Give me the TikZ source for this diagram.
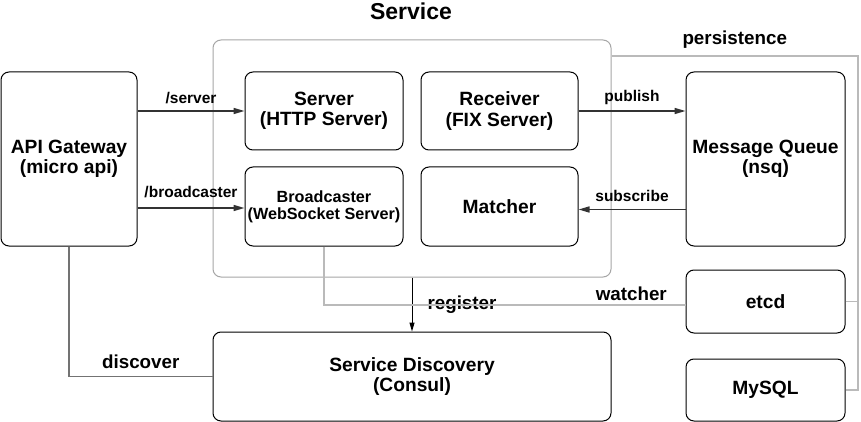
\documentclass[tikz,border=0pt]{standalone}
\usepackage{fontspec}
\setmainfont{Liberation Sans}
\usetikzlibrary{arrows.meta,calc}
\begin{document}
\begin{tikzpicture}[x=1pt,y=-1pt,
  box/.style={draw=black, line width=1pt, fill=white, rounded corners=8pt, align=center, inner sep=0pt,
    font=\bfseries\fontsize{19.2}{20.5}\selectfont},
  smallbox/.style={box, font=\bfseries\fontsize{16.2}{17}\selectfont},
  container/.style={draw=black!35, line width=1pt, rounded corners=8pt, inner sep=0pt},
  arr/.style={draw=black!80, line width=1.6pt, -{Triangle[length=11pt,width=6pt]}},
  thinarr/.style={draw=black, line width=1pt, -{Triangle[length=9pt,width=5pt]}},
  light/.style={draw=black!27, line width=1.3pt},
  mid/.style={draw=black!55, line width=1.5pt},
  lbl/.style={font=\bfseries\fontsize{15.5}{17}\selectfont, inner sep=1pt},
  biglbl/.style={font=\bfseries\fontsize{18.8}{20}\selectfont, inner sep=1pt}
]
\useasboundingbox (0,0) rectangle (861,422);
\fill[white] (0,0) rectangle (861,422);

% container
\node[container, minimum width=398, minimum height=237] (svc) at (412,158.5) {};
\node[font=\bfseries\fontsize{23}{25}\selectfont, inner sep=0pt] (svctitle) at (411,11) {Service};

% boxes
\node[box, minimum width=136, minimum height=174] (api) at (69,159) {API Gateway\\(micro api)};
\node[box, minimum width=158, minimum height=78] (srv) at (324,111) {Server\\(HTTP Server)};
\node[box, minimum width=157, minimum height=78] (rcv) at (499.5,111) {Receiver\\(FIX Server)};
\node[smallbox, minimum width=158, minimum height=79] (bc) at (324,206.5) {Broadcaster\\(WebSocket Server)};
\node[box, minimum width=157, minimum height=79] (mat) at (499.5,206.5) {Matcher};
\node[box, minimum width=159, minimum height=174] (mq) at (765.5,159) {Message Queue\\(nsq)};
\node[box, minimum width=159, minimum height=63] (etcd) at (765.5,301.5) {etcd};
\node[box, minimum width=159, minimum height=62] (mysql) at (765.5,390) {MySQL};
\node[box, minimum width=398, minimum height=89] (sd) at (412,376.5) {Service Discovery\\(Consul)};

% connectors
\draw[arr] (srv.west -| api.east) -- (srv.west) node[lbl, midway, above=5pt] (lserver) {/server};
\draw[arr] ($(bc.west -| api.east)+(0,1.5)$) -- ($(bc.west)+(0,1.5)$) node[lbl, midway, above=8pt] (lbc) {/broadcaster};
\draw[arr] (rcv.east) -- (rcv.east -| mq.west) node[lbl, midway, above=4pt] (lpub) {publish};
\draw[arr] ($(mat.east -| mq.west)+(0,3)$) -- ($(mat.east)+(0,3)$) node[lbl, midway, above=6pt] (lsub) {subscribe};
\draw[thinarr] (svc.south) -- (sd.north) node[biglbl, midway, right=14pt] (lreg) {register};

\draw[light] (bc.south) |- ($(etcd.west)+(0,3.5)$) node[biglbl, pos=0.925, above=3pt] (lwatch) {watcher};

\coordinate (pr) at (858,56);
\draw[light] (svc.east |- pr) -- (pr) node[biglbl, midway, above=6pt] (lpers) {persistence}
  -- (pr |- mysql.east) -- (mysql.east);
\draw[light] (etcd.east) -- (etcd.east -| pr);

\draw[mid] (api.south) |- (sd.west) node[biglbl, pos=0.75, above=6pt] (ldisc) {discover};
\end{tikzpicture}
\end{document}
